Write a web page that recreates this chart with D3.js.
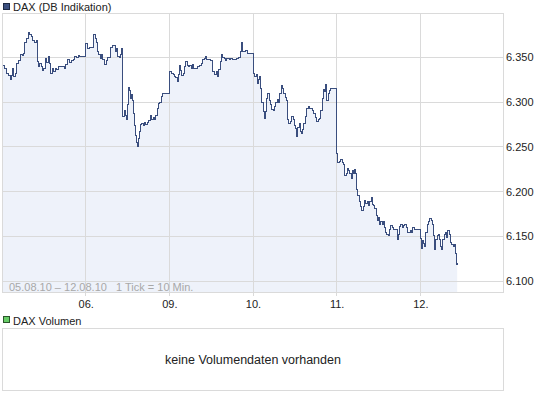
<!DOCTYPE html>
<html>
<head>
<meta charset="utf-8">
<script src="https://cdn.jsdelivr.net/npm/d3@7"></script>
<style>
    body { margin: 0; background: #fff; }
    svg { display: block; font-family: "Liberation Sans", Arial, sans-serif; }
</style>
</head>
<body>
<svg id="chart" width="545" height="395"></svg>
<script>
// 1 Tick = 10 Min., 84 ticks per trading day
const ticksPerDay = 84;
const dayLabels = ["05.", "06.", "09.", "10.", "11.", "12."];
const yTicks = [6100, 6150, 6200, 6250, 6300, 6350];

// [tick within day, index value]
const day05 = [[0, 6349], [1, 6341], [3, 6337], [5, 6332], [7, 6330], [9, 6325], [10, 6330], [11, 6338], [12, 6328],
    [14, 6332], [15, 6343], [17, 6346], [19, 6353], [21, 6352], [22, 6354], [23, 6366], [25, 6371], [27, 6378],
    [28, 6375], [30, 6373], [31, 6369], [33, 6367], [35, 6369], [36, 6345], [37, 6340], [38, 6343], [40, 6340],
    [41, 6335], [42, 6338], [44, 6349], [45, 6344], [47, 6351], [48, 6343], [49, 6332], [51, 6338], [52, 6334],
    [54, 6338], [55, 6336], [57, 6340], [59, 6340], [61, 6340], [63, 6338], [64, 6342], [66, 6347], [68, 6344],
    [70, 6346], [72, 6347], [73, 6351], [75, 6350], [77, 6352], [78, 6351]];
const day06 = [[0, 6365], [2, 6360], [4, 6361], [7, 6361], [8, 6376], [10, 6371], [11, 6366], [12, 6356], [13, 6353],
    [15, 6349], [16, 6353], [17, 6347], [19, 6342], [21, 6346], [22, 6350], [24, 6350], [25, 6361], [27, 6363],
    [29, 6363], [30, 6357], [31, 6360], [32, 6351], [34, 6350], [35, 6353], [36, 6360], [37, 6284], [39, 6291],
    [40, 6285], [41, 6280], [42, 6297], [43, 6316], [44, 6313], [45, 6304], [46, 6308], [47, 6302], [48, 6287],
    [49, 6274], [50, 6263], [51, 6255], [52, 6250], [53, 6259], [54, 6267], [55, 6275], [56, 6276], [58, 6274],
    [59, 6277], [60, 6275], [62, 6277], [63, 6279], [65, 6285], [66, 6281], [68, 6283], [69, 6280], [70, 6285],
    [72, 6293], [73, 6298], [74, 6300], [76, 6306], [77, 6310]];
const day09 = [[0, 6334], [2, 6332], [4, 6331], [5, 6328], [6, 6327], [8, 6323], [9, 6331], [10, 6341], [11, 6335],
    [12, 6330], [14, 6332], [15, 6340], [16, 6345], [18, 6341], [19, 6340], [20, 6341], [22, 6338], [23, 6342],
    [24, 6338], [26, 6338], [28, 6340], [30, 6341], [32, 6343], [33, 6347], [35, 6349], [36, 6351], [37, 6348],
    [39, 6348], [41, 6346], [43, 6334], [44, 6334], [45, 6331], [47, 6334], [48, 6329], [49, 6336], [51, 6345],
    [52, 6353], [53, 6350], [55, 6349], [56, 6346], [57, 6349], [60, 6348], [61, 6349], [63, 6347], [65, 6348],
    [67, 6349], [69, 6350], [71, 6356], [72, 6366], [73, 6356], [75, 6356], [76, 6358], [78, 6354]];
const day10 = [[0, 6332], [2, 6329], [4, 6331], [5, 6321], [6, 6325], [7, 6328], [8, 6315], [9, 6299], [11, 6289],
    [12, 6282], [13, 6289], [14, 6304], [15, 6310], [16, 6310], [17, 6302], [18, 6297], [19, 6292], [21, 6291],
    [22, 6295], [23, 6300], [25, 6303], [26, 6300], [27, 6310], [29, 6319], [30, 6315], [31, 6310], [33, 6305],
    [34, 6302], [35, 6280], [36, 6276], [38, 6278], [39, 6284], [41, 6281], [42, 6274], [43, 6270], [44, 6262],
    [45, 6271], [47, 6276], [48, 6267], [49, 6265], [50, 6269], [51, 6276], [53, 6284], [54, 6293], [56, 6295],
    [57, 6293], [58, 6293], [60, 6291], [61, 6287], [63, 6283], [64, 6278], [66, 6281], [67, 6282], [68, 6291],
    [70, 6304], [71, 6314], [72, 6312], [73, 6320], [74, 6302], [76, 6310], [77, 6313], [78, 6315]];
const day11 = [[0, 6243], [1, 6232], [3, 6233], [4, 6236], [6, 6232], [7, 6230], [8, 6218], [10, 6220], [11, 6226],
    [12, 6223], [13, 6220], [15, 6214], [16, 6224], [17, 6220], [18, 6225], [19, 6220], [20, 6202], [21, 6196],
    [23, 6189], [24, 6183], [25, 6179], [27, 6183], [28, 6190], [29, 6187], [31, 6189], [32, 6184], [33, 6189],
    [35, 6193], [36, 6185], [37, 6184], [38, 6181], [40, 6173], [41, 6168], [42, 6171], [43, 6163], [44, 6166],
    [46, 6163], [47, 6167], [48, 6160], [49, 6154], [50, 6152], [52, 6151], [53, 6158], [54, 6162], [56, 6160],
    [57, 6158], [58, 6158], [60, 6158], [61, 6146], [62, 6152], [63, 6161], [64, 6163], [66, 6160], [67, 6162],
    [68, 6163], [70, 6160], [71, 6154], [72, 6154], [74, 6156], [75, 6154], [76, 6160], [78, 6157]];
const day12 = [[0, 6147], [1, 6136], [2, 6145], [3, 6142], [4, 6139], [5, 6154], [7, 6163], [8, 6167], [9, 6170],
    [11, 6168], [12, 6163], [13, 6151], [14, 6135], [15, 6146], [17, 6151], [18, 6152], [19, 6146], [20, 6139],
    [21, 6135], [22, 6146], [24, 6152], [25, 6154], [26, 6149], [27, 6156], [29, 6152], [30, 6143], [31, 6141],
    [33, 6139], [34, 6141], [35, 6131], [36, 6118], [37, 6120]];

const days = [day05, day06, day09, day10, day11, day12];
const series = days.flatMap(function (day, i) {
    return day.map(function (p) { return { tick: i * ticksPerDay + p[0], value: p[1] }; });
});

const svg = d3.select("#chart"),
    plot = { left: 2, top: 13, right: 503, bottom: 292 },
    gridColor = "#dadada",
    lineColor = "#3a4e7e";

const de = d3.formatLocale({ decimal: ",", thousands: ".", grouping: [3], currency: ["", " €"] });

const x = d3.scaleLinear()
    .domain([0, days.length * ticksPerDay])
    .range([plot.left, 504]);

const y = d3.scaleLinear()
    .domain([6100, 6350])
    .range([281, 57.3]);

const dayStarts = d3.range(1, days.length).map(function (i) { return i * ticksPerDay; });

// Titles / legends
svg.append("rect")
    .attr("x", 3.5).attr("y", 3.5).attr("width", 6).attr("height", 6)
    .attr("fill", "#3c5080").attr("stroke", "#1e2a44");
svg.append("text")
    .attr("x", 13).attr("y", 10.5)
    .attr("font-size", 11).attr("fill", "#222")
    .text("DAX (DB Indikation)");

// Filled area under the line
const area = d3.area()
    .curve(d3.curveStepAfter)
    .x(function (d) { return x(d.tick); })
    .y0(plot.bottom)
    .y1(function (d) { return y(d.value); });

svg.append("path")
    .datum(series)
    .attr("d", area)
    .attr("fill", "#eef2fa");

// Grid
svg.append("g")
    .selectAll("line")
    .data(yTicks)
    .enter()
    .append("line")
    .attr("x1", plot.left).attr("x2", plot.right)
    .attr("y1", function (d) { return Math.floor(y(d)) + 0.5; })
    .attr("y2", function (d) { return Math.floor(y(d)) + 0.5; })
    .attr("stroke", gridColor);

svg.append("g")
    .selectAll("line")
    .data(dayStarts)
    .enter()
    .append("line")
    .attr("x1", function (d) { return Math.floor(x(d)) + 0.5; })
    .attr("x2", function (d) { return Math.floor(x(d)) + 0.5; })
    .attr("y1", plot.top).attr("y2", plot.bottom + 4)
    .attr("stroke", gridColor);

// Price line
const line = d3.line()
    .curve(d3.curveStepAfter)
    .x(function (d) { return x(d.tick); })
    .y(function (d) { return y(d.value); });

svg.append("path")
    .datum(series)
    .attr("d", line)
    .attr("fill", "none")
    .attr("stroke", lineColor)
    .attr("stroke-width", 1)
    .attr("shape-rendering", "crispEdges");

// Frame
svg.append("rect")
    .attr("x", plot.left + 0.5).attr("y", plot.top + 0.5)
    .attr("width", plot.right - plot.left).attr("height", plot.bottom - plot.top)
    .attr("fill", "none").attr("stroke", gridColor);

svg.append("text")
    .attr("x", 9).attr("y", 290.5)
    .attr("font-size", 11).attr("fill", "#a8a8a8")
    .text("05.08.10 \u2013 12.08.10   1 Tick = 10 Min.")
    .style("white-space", "pre");

// Axes (labels only)
const yAxis = svg.append("g")
    .attr("transform", "translate(506,0)")
    .call(d3.axisRight(y).tickValues(yTicks).tickFormat(de.format(",.0f")).tickSize(0).tickPadding(0));

const xAxis = svg.append("g")
    .attr("transform", "translate(0,300)")
    .call(d3.axisBottom(x).tickValues(dayStarts)
        .tickFormat(function (d) { return dayLabels[d / ticksPerDay]; })
        .tickSize(0).tickPadding(0));

[yAxis, xAxis].forEach(function (g) {
    g.select(".domain").remove();
    g.selectAll("text")
        .attr("font-family", "\"Liberation Sans\", Arial, sans-serif")
        .attr("font-size", 11)
        .attr("fill", "#222");
});

// Volume panel
svg.append("rect")
    .attr("x", 3.5).attr("y", 316.5).attr("width", 6).attr("height", 6)
    .attr("fill", "#66cc66").attr("stroke", "#2a552a");
svg.append("text")
    .attr("x", 13).attr("y", 324.5)
    .attr("font-size", 11).attr("fill", "#222")
    .text("DAX Volumen");

svg.append("rect")
    .attr("x", plot.left + 0.5).attr("y", 328.5)
    .attr("width", plot.right - plot.left).attr("height", 62)
    .attr("fill", "none").attr("stroke", gridColor);

svg.append("text")
    .attr("x", (plot.left + plot.right) / 2 + 0.5).attr("y", 363.5)
    .attr("text-anchor", "middle")
    .attr("font-size", 12.5).attr("fill", "#222")
    .text("keine Volumendaten vorhanden");
</script>
</body>
</html>
